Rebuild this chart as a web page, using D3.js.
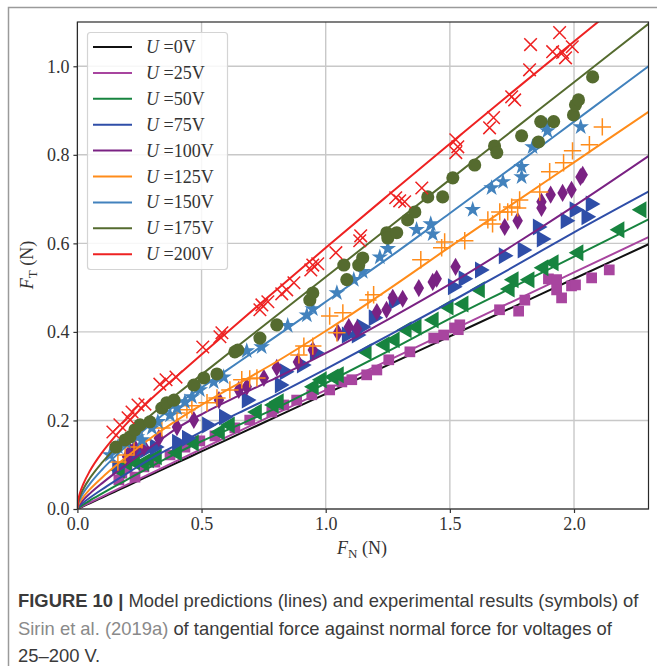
<!DOCTYPE html>
<html>
<head>
<meta charset="utf-8">
<script src="https://cdn.jsdelivr.net/npm/d3@7"></script>
<style>
  body { margin: 0; background: #fff; }
  svg { display: block; }
  .tick-label { font-family: "Liberation Serif", serif; font-size: 18px; fill: #333; }
  .caption { font-family: "Liberation Sans", sans-serif; font-size: 18.4px; fill: #3a3a3a; }
</style>
</head>
<body>
<svg id="chart" width="657" height="666"></svg>
<script>
// Model curves (lines) on a shared F_N grid.
const modelFN  = [0, 0.0025, 0.01, 0.025, 0.05, 0.1, 0.15, 0.2, 0.3, 0.4, 0.5, 0.65, 0.8, 1.0, 1.25, 1.5, 1.75, 2.0, 2.3];
const model0   = [0, 0.00065, 0.0026, 0.0065, 0.013, 0.026, 0.039, 0.052, 0.078, 0.104, 0.13, 0.169, 0.208, 0.26, 0.325, 0.39, 0.455, 0.52, 0.598];
const model25  = [0, 0.001, 0.0031, 0.0074, 0.0144, 0.028, 0.0415, 0.055, 0.0818, 0.1087, 0.1355, 0.1755, 0.2155, 0.2687, 0.3352, 0.4017, 0.468, 0.5344, 0.614];
const model50  = [0, 0.0017, 0.005, 0.0104, 0.019, 0.0351, 0.0509, 0.0663, 0.097, 0.126, 0.153, 0.19, 0.228, 0.284, 0.356, 0.43, 0.50, 0.57, 0.654];
const model75  = [0, 0.003, 0.0077, 0.0149, 0.0253, 0.0446, 0.0628, 0.0805, 0.115, 0.145, 0.175, 0.217, 0.258, 0.316, 0.391, 0.467, 0.545, 0.625, 0.717];
const model100 = [0, 0.005, 0.0115, 0.0211, 0.0347, 0.0584, 0.0804, 0.1015, 0.142, 0.182, 0.214, 0.256, 0.296, 0.352, 0.428, 0.508, 0.594, 0.684, 0.797];
const model125 = [0, 0.0073, 0.016, 0.0282, 0.0443, 0.0714, 0.0958, 0.1187, 0.162, 0.2, 0.235, 0.284, 0.332, 0.402, 0.495, 0.592, 0.688, 0.783, 0.897];
const model150 = [0, 0.0102, 0.0217, 0.0372, 0.0569, 0.0893, 0.1177, 0.144, 0.193, 0.236, 0.274, 0.332, 0.39, 0.468, 0.566, 0.668, 0.771, 0.875, 1.0];
const model175 = [0, 0.0133, 0.0279, 0.0464, 0.0693, 0.1053, 0.1359, 0.1635, 0.214, 0.259, 0.3035, 0.37, 0.436, 0.524, 0.634, 0.744, 0.854, 0.964, 1.096];
const model200 = [0, 0.017, 0.0355, 0.058, 0.0856, 0.128, 0.163, 0.194, 0.25, 0.30, 0.349, 0.422, 0.494, 0.59, 0.708, 0.825, 0.941, 1.056, 1.193];

// Experimental points [F_N, F_T]
const pts25 = [[0.167,0.066],[0.179,0.081],[0.200,0.093],[0.232,0.072],[0.268,0.095],[0.312,0.106],[0.373,0.122],[0.433,0.140],[0.493,0.154],[0.554,0.165],[0.634,0.183],[0.694,0.201],[0.783,0.219],[0.831,0.235],[0.883,0.246],[0.944,0.258],[1.016,0.269],[1.065,0.287],[1.105,0.292],[1.165,0.303],[1.206,0.314],[1.254,0.337],[1.339,0.355],[1.435,0.386],[1.475,0.393],[1.519,0.409],[1.540,0.416],[1.534,0.405],[1.700,0.450],[1.777,0.447],[1.802,0.472],[1.897,0.520],[1.930,0.518],[1.930,0.495],[1.950,0.477],[1.990,0.504],[2.006,0.506],[2.071,0.522],[2.142,0.540]];
const pts50 = [[0.171,0.088],[0.200,0.104],[0.232,0.106],[0.268,0.104],[0.288,0.111],[0.320,0.118],[0.401,0.127],[0.469,0.149],[0.574,0.174],[0.614,0.190],[0.723,0.219],[0.791,0.235],[0.811,0.242],[0.952,0.276],[0.984,0.292],[1.032,0.298],[1.053,0.303],[1.165,0.355],[1.238,0.371],[1.278,0.382],[1.326,0.405],[1.366,0.411],[1.435,0.427],[1.495,0.456],[1.555,0.463],[1.621,0.495],[1.741,0.497],[1.757,0.518],[1.821,0.518],[1.877,0.545],[1.918,0.556],[2.018,0.579],[2.183,0.631],[2.272,0.676]];
const pts75 = [[0.160,0.095],[0.232,0.129],[0.272,0.133],[0.312,0.140],[0.401,0.151],[0.441,0.160],[0.522,0.190],[0.590,0.208],[0.682,0.246],[0.815,0.280],[0.835,0.310],[0.904,0.325],[0.956,0.353],[1.085,0.393],[1.125,0.393],[1.145,0.411],[1.193,0.432],[1.274,0.468],[1.512,0.502],[1.555,0.520],[1.621,0.540],[1.717,0.572],[1.793,0.585],[1.854,0.637],[1.870,0.610],[1.966,0.651],[2.002,0.676],[2.050,0.660],[2.067,0.689]];
const pts100 = [[0.200,0.118],[0.212,0.129],[0.232,0.138],[0.268,0.140],[0.328,0.160],[0.401,0.185],[0.469,0.201],[0.570,0.246],[0.650,0.269],[0.682,0.276],[0.751,0.296],[0.803,0.319],[0.888,0.332],[0.948,0.359],[1.049,0.398],[1.093,0.411],[1.126,0.407],[1.206,0.445],[1.245,0.450],[1.270,0.477],[1.310,0.475],[1.375,0.499],[1.431,0.513],[1.447,0.520],[1.523,0.547],[1.721,0.637],[1.773,0.651],[1.869,0.694],[1.869,0.680],[1.906,0.710],[1.954,0.714],[1.990,0.721],[2.026,0.750],[2.035,0.755]];
const pts125 = [[0.163,0.106],[0.192,0.122],[0.228,0.140],[0.260,0.156],[0.340,0.183],[0.401,0.217],[0.441,0.224],[0.461,0.233],[0.522,0.240],[0.562,0.251],[0.614,0.269],[0.662,0.292],[0.694,0.294],[0.723,0.296],[0.892,0.348],[0.912,0.368],[0.948,0.368],[1.016,0.436],[1.045,0.398],[1.069,0.443],[1.170,0.472],[1.193,0.484],[1.383,0.563],[1.467,0.590],[1.479,0.603],[1.560,0.606],[1.653,0.653],[1.672,0.644],[1.701,0.671],[1.733,0.671],[1.749,0.682],[1.773,0.680],[1.781,0.698],[1.862,0.716],[1.902,0.762],[1.958,0.782],[1.994,0.809],[2.062,0.823],[2.114,0.863]];
const pts150 = [[0.131,0.122],[0.163,0.140],[0.196,0.151],[0.240,0.163],[0.260,0.156],[0.300,0.183],[0.324,0.197],[0.373,0.212],[0.401,0.228],[0.433,0.242],[0.461,0.253],[0.493,0.269],[0.549,0.287],[0.589,0.298],[0.682,0.357],[0.742,0.366],[0.847,0.414],[0.924,0.438],[0.948,0.452],[1.045,0.488],[1.113,0.518],[1.149,0.536],[1.218,0.569],[1.250,0.588],[1.366,0.631],[1.423,0.644],[1.431,0.621],[1.592,0.676],[1.668,0.725],[1.714,0.739],[1.789,0.773],[1.789,0.750],[1.833,0.818],[1.889,0.866],[1.893,0.854],[2.027,0.863]];
const pts175 = [[0.155,0.140],[0.192,0.156],[0.212,0.163],[0.232,0.179],[0.252,0.190],[0.292,0.197],[0.340,0.228],[0.360,0.240],[0.389,0.246],[0.469,0.280],[0.509,0.296],[0.562,0.305],[0.634,0.355],[0.646,0.359],[0.735,0.386],[0.803,0.416],[0.936,0.472],[0.948,0.488],[1.073,0.551],[1.085,0.518],[1.133,0.551],[1.149,0.567],[1.246,0.624],[1.250,0.612],[1.286,0.624],[1.330,0.653],[1.359,0.671],[1.411,0.705],[1.471,0.705],[1.512,0.748],[1.600,0.777],[1.680,0.820],[1.689,0.805],[1.789,0.843],[1.857,0.829],[1.866,0.875],[1.918,0.875],[1.998,0.890],[2.006,0.913],[2.018,0.924],[2.075,0.976]];
const pts200 = [[0.143,0.174],[0.171,0.190],[0.204,0.206],[0.220,0.219],[0.244,0.235],[0.272,0.237],[0.332,0.282],[0.357,0.292],[0.397,0.298],[0.505,0.366],[0.574,0.389],[0.582,0.398],[0.735,0.450],[0.743,0.461],[0.767,0.468],[0.823,0.486],[0.843,0.495],[0.872,0.511],[0.940,0.540],[0.948,0.551],[0.968,0.554],[1.041,0.579],[1.141,0.617],[1.137,0.606],[1.282,0.703],[1.298,0.696],[1.318,0.694],[1.387,0.725],[1.524,0.834],[1.524,0.805],[1.532,0.818],[1.660,0.861],[1.676,0.884],[1.749,0.931],[1.761,0.924],[1.821,0.992],[1.825,1.049],[1.914,1.033],[1.942,1.076],[1.954,1.031],[1.966,1.019],[1.993,1.044]];

const voltages = [0, 25, 50, 75, 100, 125, 150, 175, 200];
const xTicks = [0, 0.5, 1.0, 1.5, 2.0];
const yTicks = [0, 0.2, 0.4, 0.6, 0.8, 1.0];

const seriesList = [
    { v: 0,   color: "#111111", model: model0,   pts: [],     shape: null },
    { v: 25,  color: "#a8459f", model: model25,  pts: pts25,  shape: "square" },
    { v: 50,  color: "#17843f", model: model50,  pts: pts50,  shape: "tleft" },
    { v: 75,  color: "#2f4ea8", model: model75,  pts: pts75,  shape: "tright" },
    { v: 100, color: "#7a2283", model: model100, pts: pts100, shape: "diamond" },
    { v: 125, color: "#ff8c1a", model: model125, pts: pts125, shape: "plus" },
    { v: 150, color: "#4282bd", model: model150, pts: pts150, shape: "star" },
    { v: 175, color: "#556b2f", model: model175, pts: pts175, shape: "circle" },
    { v: 200, color: "#ee2222", model: model200, pts: pts200, shape: "times" }
];

const svg = d3.select("#chart");
const plotLeft = 77.4, plotRight = 648.5, plotTop = 22, plotBottom = 509;

const x = d3.scaleLinear().domain([0, 2.3]).range([plotLeft, plotRight]);
const y = d3.scaleLinear().domain([0, 1.1]).range([plotBottom, plotTop]);

// page frame of the journal layout
svg.append("path")
    .attr("d", "M8.5,666V7.5H657")
    .attr("fill", "none")
    .attr("stroke", "#9a9a9a")
    .attr("stroke-width", 1.5);

svg.append("clipPath").attr("id", "plotclip")
    .append("rect").attr("x", plotLeft).attr("y", plotTop).attr("width", plotRight - plotLeft).attr("height", plotBottom - plotTop);

// grid
const grid = svg.append("g").attr("stroke", "#c8c8c8").attr("stroke-width", 1.4);
xTicks.forEach(function (t) {
    grid.append("line").attr("x1", x(t)).attr("x2", x(t)).attr("y1", plotTop).attr("y2", plotBottom);
});
yTicks.forEach(function (t) {
    grid.append("line").attr("x1", plotLeft).attr("x2", plotRight).attr("y1", y(t)).attr("y2", y(t));
});

// lines and markers
const plot = svg.append("g").attr("clip-path", "url(#plotclip)");
const lineGen = d3.line().x(function (d) { return x(d[0]); }).y(function (d) { return y(d[1]); }).curve(d3.curveMonotoneX);

function markerPath (shape) {
    if (shape === "square") return d3.symbol(d3.symbolSquare, 115)();
    if (shape === "circle") return d3.symbol(d3.symbolCircle, 135)();
    if (shape === "tleft" || shape === "tright") return d3.symbol(d3.symbolTriangle, 125)();
    if (shape === "diamond") return d3.symbol(d3.symbolDiamond, 95)();
    if (shape === "star") return d3.symbol(d3.symbolStar, 85)();
    if (shape === "plus") return d3.symbol(d3.symbolPlus || d3.symbolCross, 100)();
    if (shape === "times") return d3.symbol(d3.symbolTimes || d3.symbolCross, 105)();
}

seriesList.forEach(function (s) {
    const lineData = modelFN.map(function (fn, i) { return [fn, s.model[i]]; });
    plot.append("path")
        .datum(lineData)
        .attr("d", lineGen)
        .attr("fill", "none")
        .attr("stroke", s.color)
        .attr("stroke-width", 2);

    if (!s.shape) return;
    const stroked = (s.shape === "plus" || s.shape === "times");
    const rot = s.shape === "tleft" ? -90 : (s.shape === "tright" ? 90 : 0);
    plot.selectAll(null)
        .data(s.pts)
        .enter().append("path")
            .attr("d", markerPath(s.shape))
            .attr("transform", function (d) { return "translate(" + x(d[0]) + "," + y(d[1]) + ") rotate(" + rot + ")"; })
            .attr("fill", stroked ? "none" : s.color)
            .attr("stroke", stroked ? s.color : "none")
            .attr("stroke-width", stroked ? 1.5 : 0);
});

// axes frame + ticks
svg.append("rect")
    .attr("x", plotLeft).attr("y", plotTop).attr("width", plotRight - plotLeft).attr("height", plotBottom - plotTop)
    .attr("fill", "none").attr("stroke", "#2a2a2a").attr("stroke-width", 1.2);

const xAxis = svg.append("g").attr("transform", "translate(0," + plotBottom + ")")
    .call(d3.axisBottom(x).tickValues(xTicks).tickFormat(d3.format(".1f")).tickSize(4).tickPadding(4));
const yAxis = svg.append("g").attr("transform", "translate(" + plotLeft + ",0)")
    .call(d3.axisLeft(y).tickValues(yTicks).tickFormat(d3.format(".1f")).tickSize(4).tickPadding(4));
[xAxis, yAxis].forEach(function (a) {
    a.attr("font-family", null).attr("font-size", null);
    a.select(".domain").remove();
    a.selectAll(".tick line").attr("stroke", "#333").attr("stroke-width", 1.2);
    a.selectAll(".tick text").attr("class", "tick-label").attr("fill", null);
});

// axis labels
const xLab = svg.append("text").attr("class", "tick-label").attr("x", 362).attr("y", 554).attr("text-anchor", "middle");
xLab.append("tspan").attr("font-style", "italic").text("F");
xLab.append("tspan").attr("font-size", 13).attr("dy", 4).text("N");
xLab.append("tspan").attr("dy", -4).text(" (N)");

const yLab = svg.append("text").attr("class", "tick-label").attr("text-anchor", "middle")
    .attr("transform", "translate(33,265) rotate(-90)");
yLab.append("tspan").attr("font-style", "italic").text("F");
yLab.append("tspan").attr("font-size", 13).attr("dy", 4).text("T");
yLab.append("tspan").attr("dy", -4).text(" (N)");

// legend
const legend = svg.append("g");
legend.append("rect")
    .attr("x", 87.5).attr("y", 32.5).attr("width", 140).attr("height", 237).attr("rx", 3)
    .attr("fill", "#fff").attr("fill-opacity", 0.85).attr("stroke", "#d4d4d4").attr("stroke-width", 1.2);
seriesList.forEach(function (s, i) {
    const ly = 47 + i * 25.9;
    legend.append("line").attr("x1", 93).attr("x2", 132).attr("y1", ly).attr("y2", ly)
        .attr("stroke", s.color).attr("stroke-width", 2);
    const t = legend.append("text").attr("class", "tick-label").attr("x", 146).attr("y", ly + 6);
    t.append("tspan").attr("font-style", "italic").text("U");
    t.append("tspan").text(" =" + voltages[i] + "V");
});

// caption
const cap = svg.append("g");
const c1 = cap.append("text").attr("class", "caption").attr("x", 18).attr("y", 607);
c1.append("tspan").attr("font-weight", "bold").text("FIGURE 10 | ");
c1.append("tspan").text("Model predictions (lines) and experimental results (symbols) of");
const c2 = cap.append("text").attr("class", "caption").attr("x", 18).attr("y", 635);
c2.append("tspan").attr("fill", "#8a8a8a").text("Sirin et al. (2019a)");
c2.append("tspan").text(" of tangential force against normal force for voltages of");
cap.append("text").attr("class", "caption").attr("x", 18).attr("y", 662).text("25\u2013200 V.");
</script>
</body>
</html>
